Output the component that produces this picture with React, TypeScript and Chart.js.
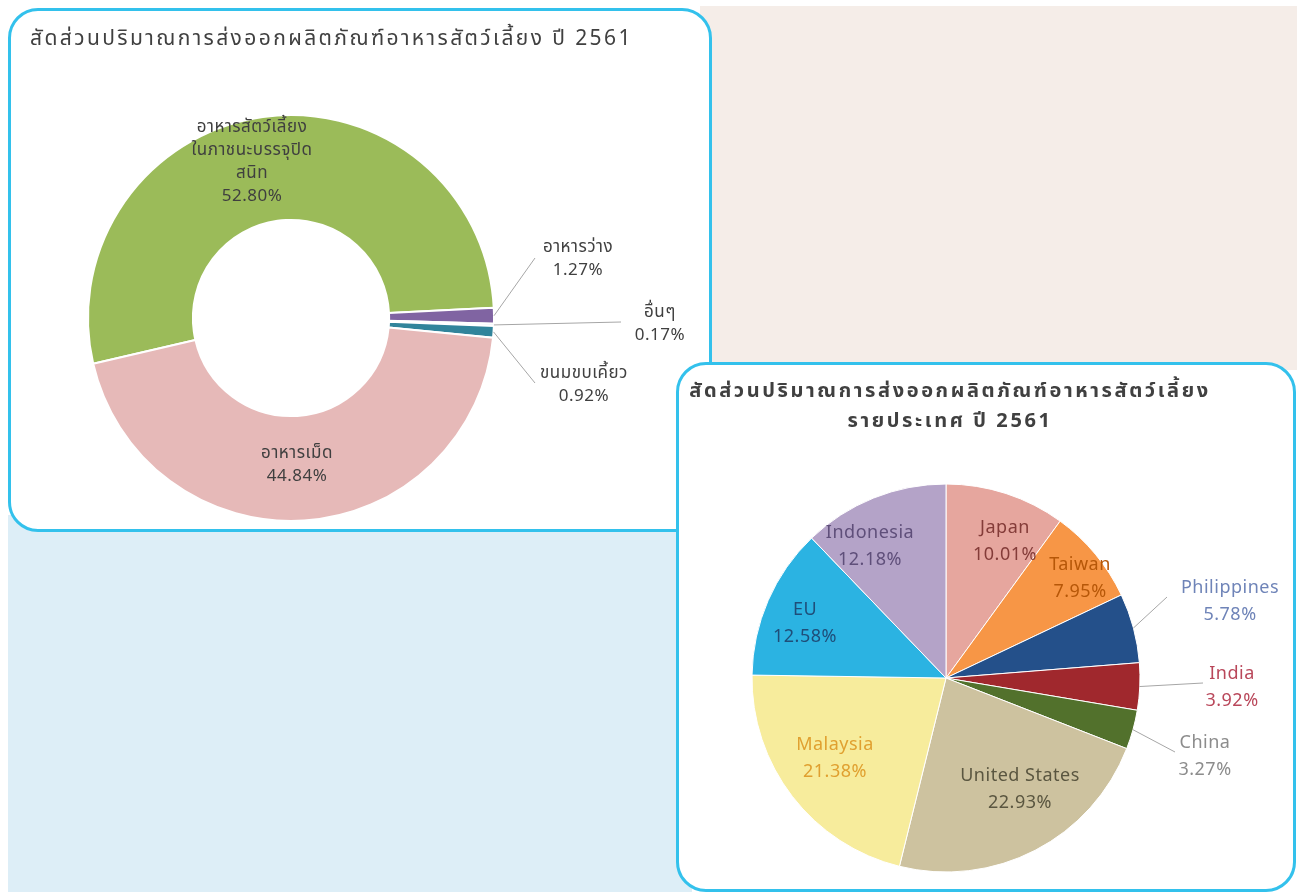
import React, { useEffect, useRef } from "react";
import { Chart, registerables } from "chart.js";

Chart.register(...registerables);

// ---------- data ----------
const donutTitle = "สัดส่วนปริมาณการส่งออกผลิตภัณฑ์อาหารสัตว์เลี้ยง ปี 2561";
const donutCategories = [
  ["อาหารสัตว์เลี้ยง", "ในภาชนะบรรจุปิด", "สนิท"],
  ["อาหารว่าง"],
  ["อื่นๆ"],
  ["ขนมขบเคี้ยว"],
  ["อาหารเม็ด"],
];
const donutValues = [52.8, 1.27, 0.17, 0.92, 44.84];

const pieTitle = ["สัดส่วนปริมาณการส่งออกผลิตภัณฑ์อาหารสัตว์เลี้ยง", "รายประเทศ ปี 2561"];
const pieCategories = ["Japan", "Taiwan", "Philippines", "India", "China", "United States", "Malaysia", "EU", "Indonesia"];
const pieValues = [10.01, 7.95, 5.78, 3.92, 3.27, 22.93, 21.38, 12.58, 12.18];

// ---------- styles ----------
const donutColors = ["#9BBB59", "#8064A2", "#C6D9F1", "#31849B", "#E6B9B8"];
const donutTextColors = ["#3F3F3F", "#404040", "#404040", "#404040", "#3F3F3F"];
// label offsets from chart centre; lx/ly = leader line end (outside labels only)
const donutLabelLayout: any[] = [
  { dx: -39, dy: -155 },
  { dx: 287, dy: -58, lx: 244, ly: -60 },
  { dx: 369, dy: 7, lx: 330, ly: 4 },
  { dx: 293, dy: 68, lx: 244, ly: 65 },
  { dx: 6, dy: 148 },
];

const pieColors = ["#E6A69E", "#F79646", "#24508A", "#A0282D", "#52712C", "#CDC29F", "#F7EC9C", "#2BB3E2", "#B4A3C8"];
const pieTextColors = ["#843C39", "#B65708", "#6F84B8", "#B9475A", "#8C8C8C", "#5A5640", "#E0A030", "#1F4E79", "#5F4F7A"];
const pieLabelLayout: any[] = [
  { dx: 59, dy: -135 },
  { dx: 134, dy: -98 },
  { dx: 284, dy: -75, lx: 221, ly: -81 },
  { dx: 286, dy: 11, lx: 257, ly: 5 },
  { dx: 259, dy: 80, lx: 229, ly: 74 },
  { dx: 74, dy: 113 },
  { dx: -111, dy: 82 },
  { dx: -141, dy: -53 },
  { dx: -76, dy: -130 },
];

const FONT = "'Noto Sans Thai', 'Noto Sans', 'DejaVu Sans', sans-serif";

function labelPlugin(id: string, lines: string[][], layout: any[], colors: string[], fontSize: number, lineH: number, spacing: number) {
  return {
    id,
    afterDatasetsDraw(chart: any) {
      const ctx = chart.ctx;
      const meta = chart.getDatasetMeta(0);
      ctx.save();
      meta.data.forEach((arc: any, i: number) => {
        const p = arc.getProps(["x", "y", "startAngle", "endAngle", "outerRadius"], true);
        const L = layout[i];
        if (L.lx !== undefined) {
          const mid = (p.startAngle + p.endAngle) / 2;
          const sx = p.x + Math.cos(mid) * p.outerRadius;
          const sy = p.y + Math.sin(mid) * p.outerRadius;
          ctx.strokeStyle = "#A6A6A6";
          ctx.lineWidth = 1;
          ctx.beginPath();
          ctx.moveTo(sx, sy);
          ctx.lineTo(p.x + L.lx, p.y + L.ly);
          ctx.stroke();
        }
        const tx = p.x + L.dx;
        const ty = p.y + L.dy;
        ctx.font = `${fontSize}px ${FONT}`;
        try {
          (ctx as any).letterSpacing = `${spacing}px`;
        } catch (e) {}
        ctx.fillStyle = colors[i];
        ctx.textAlign = "center";
        ctx.textBaseline = "middle";
        const n = lines[i].length;
        lines[i].forEach((s, k) => ctx.fillText(s, tx, ty + (k - (n - 1) / 2) * lineH));
      });
      ctx.restore();
    },
  };
}

function DonutChart() {
  const ref = useRef<HTMLCanvasElement>(null);
  useEffect(() => {
    const lines = donutCategories.map((c, i) => [...c, donutValues[i].toFixed(2) + "%"]);
    const chart = new Chart(ref.current!, {
      type: "doughnut",
      data: {
        labels: donutCategories.map((c) => c.join("")),
        datasets: [
          {
            data: donutValues,
            backgroundColor: donutColors,
            borderColor: "#FFFFFF",
            borderWidth: 2,
            hoverOffset: 0,
          },
        ],
      },
      options: {
        responsive: false,
        animation: false,
        rotation: 257,
        radius: 203,
        cutout: 101,
        layout: { padding: { left: 73, right: 211, top: 100, bottom: 4 } },
        plugins: { legend: { display: false }, tooltip: { enabled: false } },
      } as any,
      plugins: [labelPlugin("donutLabels", lines, donutLabelLayout, donutTextColors, 17, 23, 0.5)],
    });
    return () => chart.destroy();
  }, []);
  return <canvas ref={ref} width={704} height={524} />;
}

function PieChart() {
  const ref = useRef<HTMLCanvasElement>(null);
  useEffect(() => {
    const lines = pieCategories.map((c, i) => [c, pieValues[i].toFixed(2) + "%"]);
    const chart = new Chart(ref.current!, {
      type: "pie",
      data: {
        labels: pieCategories,
        datasets: [
          {
            data: pieValues,
            backgroundColor: pieColors,
            borderColor: "#FFFFFF",
            borderWidth: 1,
            hoverOffset: 0,
          },
        ],
      },
      options: {
        responsive: false,
        animation: false,
        rotation: 0,
        radius: 194,
        layout: { padding: { left: 70, right: 150, top: 116, bottom: 14 } },
        plugins: { legend: { display: false }, tooltip: { enabled: false } },
      } as any,
      plugins: [labelPlugin("pieLabels", lines, pieLabelLayout, pieTextColors, 18, 27, 0.5)],
    });
    return () => chart.destroy();
  }, []);
  return <canvas ref={ref} width={620} height={530} />;
}

const BORDER = "#33C1EC";

export default function App() {
  return (
    <div style={{ position: "absolute", left: 0, top: 0, width: 1300, height: 892, overflow: "hidden", background: "#FFFFFF", fontFamily: FONT }}>
      <div style={{ position: "absolute", left: 700, top: 6, width: 597, height: 364, background: "#F5EDE8" }} />
      <div style={{ position: "absolute", left: 8, top: 515, width: 684, height: 377, background: "#DDEEF7" }} />

      {/* left card */}
      <div style={{ position: "absolute", left: 8, top: 8, width: 698, height: 518, border: `3px solid ${BORDER}`, borderRadius: 30, background: "#FFFFFF" }} />
      <div style={{ position: "absolute", left: 8, top: 8, width: 704, height: 524 }}>
        <DonutChart />
      </div>
      <div style={{ position: "absolute", left: 30, top: 24, fontSize: 21, letterSpacing: 2.4, color: "#404040", whiteSpace: "nowrap", lineHeight: "30px" }}>
        {donutTitle}
      </div>

      {/* right card */}
      <div style={{ position: "absolute", left: 676, top: 362, width: 614, height: 524, border: `3px solid ${BORDER}`, borderRadius: 30, background: "#FFFFFF" }} />
      <div style={{ position: "absolute", left: 676, top: 362, width: 620, height: 530 }}>
        <PieChart />
      </div>
      <div style={{ position: "absolute", left: 676, top: 376, width: 548, textAlign: "center", fontSize: 20, letterSpacing: 2.6, fontWeight: "bold", color: "#404040", lineHeight: "30px", whiteSpace: "nowrap" }}>
        {pieTitle.map((t, i) => (
          <div key={i}>{t}</div>
        ))}
      </div>
    </div>
  );
}
